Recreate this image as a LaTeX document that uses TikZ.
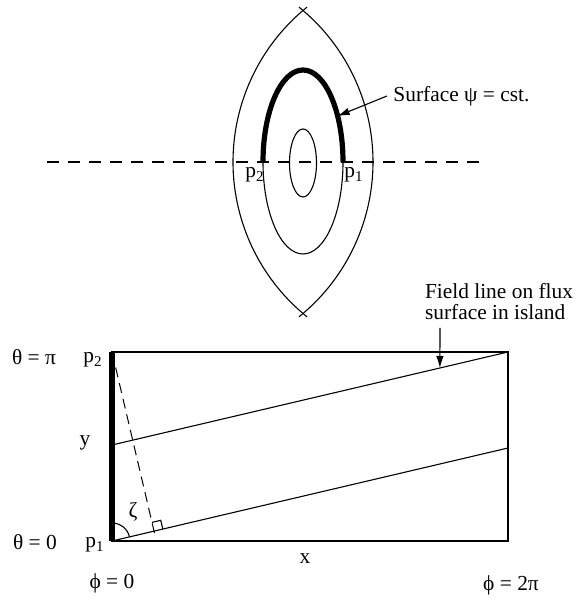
\documentclass[tikz,border=0pt]{standalone}
\usepackage{fontspec}
\setmainfont{Liberation Serif}
\usepackage{tikz}
\usetikzlibrary{arrows.meta,positioning,calc}

\begin{document}
\begin{tikzpicture}[x=0.5pt,y=0.5pt,
		curve/.style={line width=0.55pt},
		heavy/.style={line width=2.6pt},
		guide/.style={line width=0.55pt,dash pattern=on 6pt off 4.5pt},
		guidetwo/.style={line width=0.5pt,dash pattern=on 5pt off 3pt},
		lbl/.style={font=\fontsize{10.7}{10.5}\selectfont,inner sep=0pt},
		pointer/.style={line width=0.55pt,-{Latex[length=6pt,width=3.8pt]}}]
			\useasboundingbox (0,0) rectangle (578,600);
			% island cross-section
			\coordinate (c) at (303,438);
			\coordinate (dl) at (47,438);
			\coordinate (dr) at (487,438);
			\draw[guide] (dl) -- (dr);
			\draw[curve] (432,438) ++(128.9:199) arc[start angle=128.9,end angle=231.1,radius=199];
			\draw[curve] (174,438) ++(51.1:199) arc[start angle=51.1,end angle=-51.1,radius=199];
			\draw[curve] (c) ellipse[x radius=40,y radius=92];
			\draw[curve] (303,437) ellipse[x radius=13.5,y radius=34];
			\draw[heavy] (343,438) arc[start angle=0,end angle=180,x radius=40,y radius=92];
			\node[lbl] (ptop) at (354,425) {p\textsubscript{1}};
			\node[lbl] (pttop) at (255,425) {p\textsubscript{2}};
			\coordinate (onpsi) at ($(c)+(30:40 and 92)$);
			\node[lbl,anchor=west] (surf) at (393,504) {Surface ψ = cst.};
			\draw[pointer] ([xshift=-3pt]surf.west) -- (onpsi);
			% unrolled surface
			\coordinate (bl) at (112,59);
			\coordinate (tl) at (112,248);
			\coordinate (tr) at (508,248);
			\coordinate (qa) at (112,155);
			\coordinate (qb) at (508,152);
			\draw[curve] (bl) rectangle (tr);
			\draw[heavy] (bl) -- (tl);
			\draw[curve] (qa) -- (tr);
			\draw[curve] (bl) -- (qb);
			\coordinate (foot) at ($(bl)!(tl)!(qb)$);
			\draw[guidetwo] (tl) -- ($(tl)!1.035!(foot)$);
			\coordinate (ra) at ($(foot)!4.5pt!(qb)$);
			\coordinate (rb) at ($(foot)!4.5pt!(tl)$);
			\draw[curve] (ra) -- ($(ra)+(rb)-(foot)$) -- (rb);
			\draw[curve] (bl) ++(13.2:18) arc[start angle=13.2,end angle=90,radius=18];
			\node[lbl] (zeta) at (133,88) {ζ};
			\node[lbl] (ylbl) at (85,157) {y};
			\node[lbl] (xlbl) at (305,41) {x};
			\node[lbl] (thpi) at (34,243) {θ = π};
			\node[lbl] (thzero) at (35,58) {θ = 0};
			\node[lbl] (pbot) at (95,55) {p\textsubscript{1}};
			\node[lbl] (ptbot) at (93,240) {p\textsubscript{2}};
			\node[lbl] (phzero) at (112,17) {ϕ = 0};
			\node[lbl] (phtwo) at (511,15) {ϕ = 2π};
			\node[lbl,align=left] (field) at (499,298) {Field line on flux\\surface in island};
			\coordinate (hit) at ($(qa)!0.828!(tr)$);
			\coordinate (fla) at (440,272);
			\draw[pointer] (fla) -- (hit);
		\end{tikzpicture}
\end{document}
